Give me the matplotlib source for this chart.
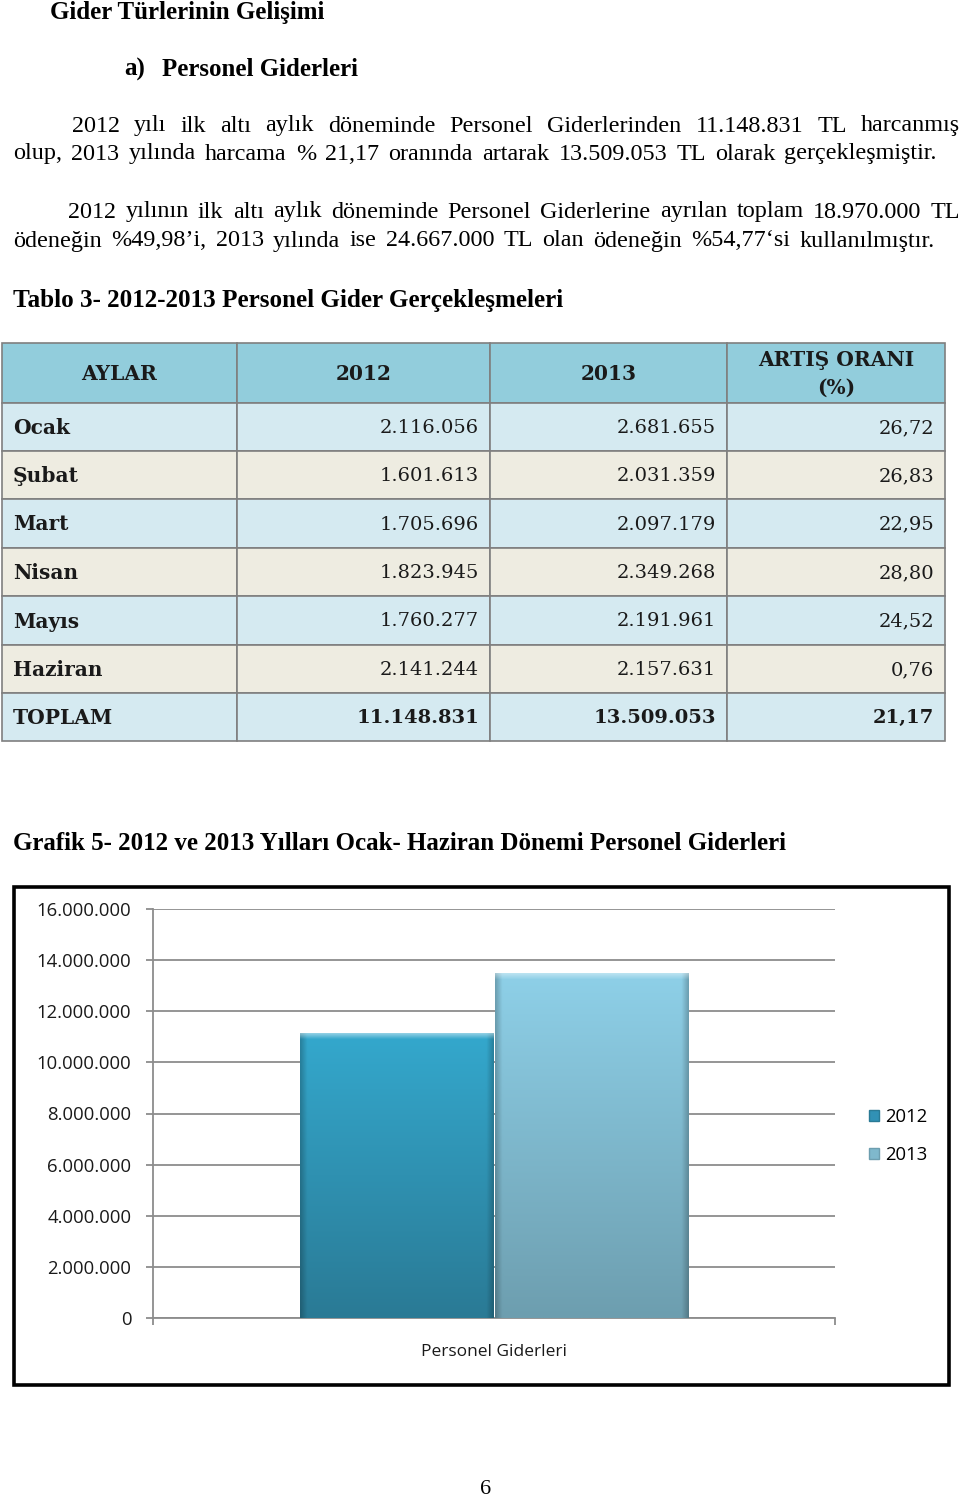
import numpy as np
import matplotlib
matplotlib.use("Agg")
import matplotlib.pyplot as plt
from matplotlib.patches import Rectangle, Patch
from matplotlib.colors import to_rgb
from matplotlib.ticker import FuncFormatter

# ---------------- data ----------------
months = ["Ocak", "Şubat", "Mart", "Nisan", "Mayıs", "Haziran"]
gider_2012 = [2116056, 1601613, 1705696, 1823945, 1760277, 2141244]
gider_2013 = [2681655, 2031359, 2097179, 2349268, 2191961, 2157631]
artis_orani = [26.72, 26.83, 22.95, 28.80, 24.52, 0.76]
toplam_label = "TOPLAM"
toplam_2012 = 11148831
toplam_2013 = 13509053
toplam_artis = 21.17
table_header = ["AYLAR", "2012", "2013", "ARTIŞ ORANI\n(%)"]

chart_categories = ["Personel Giderleri"]
chart_series = ["2012", "2013"]
chart_values_2012 = [11148831]
chart_values_2013 = [13509053]
y_ticks = [0, 2000000, 4000000, 6000000, 8000000, 10000000, 12000000, 14000000, 16000000]


def tr_int(n):
    return f"{int(n):,}".replace(",", ".")


def tr_dec(v):
    return f"{v:.2f}".replace(".", ",")


SERIF = ["Liberation Serif", "DejaVu Serif"]
TSERIF = ["DejaVu Serif"]
SANS = ["Open Sans", "DejaVu Sans"]

fig = plt.figure(figsize=(9.6, 15.01), dpi=100)
page = fig.add_axes([0, 0, 1, 1])
page.set_xlim(0, 960)
page.set_ylim(1501, 0)
page.axis("off")
renderer = fig.canvas.get_renderer()


def width_of(t):
    return t.get_window_extent(renderer).width


def fit_text(s, x0, x1, y, **kw):
    t = page.text(x0, y, s, ha="left", va="center", fontsize=10, **kw)
    w = width_of(t)
    t.set_fontsize(10 * (x1 - x0) / w)
    return t


def justify(s, x0, x1, y, size, **kw):
    words = s.split(" ")
    texts = [page.text(0, y, w, ha="left", va="center", fontsize=size, **kw) for w in words]
    widths = [width_of(t) for t in texts]
    gap = (x1 - x0 - sum(widths)) / (len(words) - 1)
    if gap < 4:
        f = (x1 - x0 - 4 * (len(words) - 1)) / sum(widths)
        for t in texts:
            t.set_fontsize(size * f)
        widths = [width_of(t) for t in texts]
        gap = (x1 - x0 - sum(widths)) / (len(words) - 1)
    x = x0
    for t, w in zip(texts, widths):
        t.set_x(x)
        x += w + gap


# ---------------- page text ----------------
fit_text("Gider Türlerinin Gelişimi", 50, 327, 12, family=SERIF, weight="bold")
fit_text("a)", 124, 145, 69, family=SERIF, weight="bold")
fit_text("Personel Giderleri", 162, 358, 69, family=SERIF, weight="bold")

BODY = 17.4
justify("2012 yılı ilk altı aylık döneminde Personel Giderlerinden 11.148.831 TL harcanmış",
        72, 960, 126, BODY, family=SERIF)
justify("olup, 2013 yılında harcama % 21,17 oranında artarak 13.509.053 TL olarak gerçekleşmiştir.",
        13, 937, 154, BODY, family=SERIF)
justify("2012 yılının ilk altı aylık döneminde Personel Giderlerine ayrılan toplam 18.970.000 TL",
        68, 960, 212, BODY, family=SERIF)
justify("ödeneğin %49,98’i, 2013 yılında ise 24.667.000 TL olan ödeneğin %54,77‘si kullanılmıştır.",
        13, 935, 241, BODY, family=SERIF)

fit_text("Tablo 3- 2012-2013 Personel Gider Gerçekleşmeleri", 13, 564, 300, family=SERIF, weight="bold")
fit_text("Grafik 5- 2012 ve 2013 Yılları Ocak- Haziran Dönemi Personel Giderleri", 13, 790, 843,
         family=SERIF, weight="bold")
page.text(486, 1489, "6", ha="center", va="center", fontsize=16, family=SERIF)

# ---------------- table ----------------
col_edges = [2, 237, 490, 727, 945]
row_edges = [343, 403, 451, 499, 548, 596, 645, 693, 741]
HEAD = "#92CDDC"
BLUE = "#D5EAF1"
BEIGE = "#EEECE1"
BORDER = "#7F7F7F"

rows = []
for m, a, b, r in zip(months, gider_2012, gider_2013, artis_orani):
    rows.append((m, tr_int(a), tr_int(b), tr_dec(r), False))
rows.append((toplam_label, tr_int(toplam_2012), tr_int(toplam_2013), tr_dec(toplam_artis), True))

# header
for c in range(4):
    page.add_patch(Rectangle((col_edges[c], row_edges[0]), col_edges[c + 1] - col_edges[c],
                             row_edges[1] - row_edges[0], facecolor=HEAD, edgecolor=BORDER, lw=1.2))
    cx = (col_edges[c] + col_edges[c + 1]) / 2
    page.text(cx, (row_edges[0] + row_edges[1]) / 2 + 1, table_header[c], ha="center", va="center",
              fontsize=14.5, family=TSERIF, weight="bold", color="#1a1a1a", linespacing=1.5)

for i, (lab, v1, v2, v3, bold) in enumerate(rows):
    y0, y1 = row_edges[i + 1], row_edges[i + 2]
    fc = BLUE if i % 2 == 0 else BEIGE
    for c in range(4):
        page.add_patch(Rectangle((col_edges[c], y0), col_edges[c + 1] - col_edges[c], y1 - y0,
                                 facecolor=fc, edgecolor=BORDER, lw=1.2))
    yc = (y0 + y1) / 2 + 1
    page.text(col_edges[0] + 11, yc, lab, ha="left", va="center", fontsize=14.5,
              family=TSERIF, weight="bold", color="#1a1a1a")
    for c, v in zip([1, 2, 3], [v1, v2, v3]):
        page.text(col_edges[c + 1] - 11, yc, v, ha="right", va="center", fontsize=14,
                  family=TSERIF, weight="bold" if bold else "light",
                  color="#1a1a1a")

# ---------------- chart ----------------
page.add_patch(Rectangle((14, 887), 935, 498, facecolor="white", edgecolor="black", lw=2.6))

ax = fig.add_axes([153 / 960, 1 - 1318 / 1501, 682 / 960, 409 / 1501])
x = np.arange(len(chart_categories))
bw = 0.283
b1 = ax.bar(x - 0.1435, chart_values_2012, bw, color="#3191B5", zorder=3, label=chart_series[0])
b2 = ax.bar(x + 0.1435, chart_values_2013, bw, color="#7FB8CC", zorder=3, label=chart_series[1])


def shade(patch, top, bottom):
    x0, w, h = patch.get_x(), patch.get_width(), patch.get_height()
    ny, nx = 300, 120
    t = np.linspace(0, 1, ny)[:, None, None]
    img = np.array(to_rgb(top))[None, None, :] * (1 - t) + np.array(to_rgb(bottom))[None, None, :] * t
    img = np.repeat(img, nx, axis=1)
    s = np.linspace(0, 1, nx)
    edge = np.clip(1 - np.minimum(s, 1 - s) / 0.035, 0, 1)
    img = img * (1 - 0.22 * edge)[None, :, None]
    r = np.linspace(0, 1, ny)
    hl = np.clip(1 - r / 0.02, 0, 1)[:, None, None]
    img = img * (1 - 0.45 * hl) + 0.45 * hl
    img = np.clip(img, 0, 1)
    im = ax.imshow(img, extent=(x0, x0 + w, 0, h), origin="upper", aspect="auto",
                   zorder=patch.zorder + 0.1, interpolation="bilinear")
    im.set_clip_path(patch)


for p in b1:
    shade(p, "#34A8CD", "#2A7A95")
for p in b2:
    shade(p, "#8ED0E8", "#6D9EAF")

ax.set_xlim(-0.5, 0.5)
ax.set_ylim(0, 16000000)
ax.set_aspect("auto")
ax.set_yticks(y_ticks)
ax.yaxis.set_major_formatter(FuncFormatter(lambda v, p: tr_int(v)))
ax.yaxis.grid(True, color="#8C8C8C", lw=1.3)
ax.set_axisbelow(True)
for sp in ["top", "right"]:
    ax.spines[sp].set_visible(False)
for sp in ["left", "bottom"]:
    ax.spines[sp].set_color("#8C8C8C")
    ax.spines[sp].set_linewidth(1.3)
ax.set_xticks([-0.5, 0.5])
ax.set_xticklabels(["", ""])
ax.set_xticks(x, minor=True)
ax.set_xticklabels(chart_categories, minor=True, fontsize=12.5, family=SANS, color="#1a1a1a")
ax.tick_params(axis="x", which="major", direction="out", length=5, color="#8C8C8C", width=1.3)
ax.tick_params(axis="x", which="minor", length=0, pad=19)
ax.tick_params(axis="y", direction="out", length=5, color="#8C8C8C", width=1.3, pad=10.5,
               labelsize=13.3, labelcolor="#1a1a1a")
for lbl in ax.get_yticklabels():
    lbl.set_family(SANS)

handles = [Patch(facecolor="#3191B5", edgecolor="#2A7A95"), Patch(facecolor="#7FB8CC", edgecolor="#6D9EAF")]
fig.legend(handles, chart_series, loc="center left", bbox_to_anchor=(852 / 960, 1 - 1136 / 1501),
           frameon=False, handlelength=0.55, handleheight=0.55, handletextpad=0.35,
           labelspacing=1.1, prop={"family": SANS, "size": 13.3})

fig.savefig("out.png", dpi=100)
